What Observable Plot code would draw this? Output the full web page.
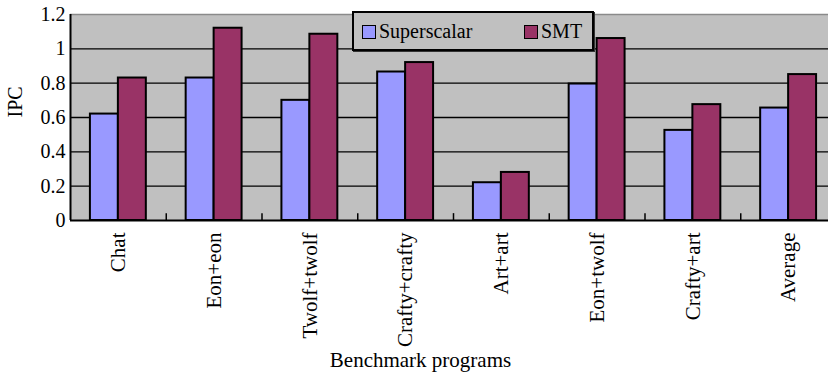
<!DOCTYPE html>
<html>
<head>
<meta charset="utf-8">
<script src="https://cdn.jsdelivr.net/npm/d3@7"></script>
<script src="https://cdn.jsdelivr.net/npm/@observablehq/plot@0.6"></script>
<style>
  html, body { margin: 0; padding: 0; background: #fff; }
  #wrap { position: relative; width: 828px; height: 372px; overflow: hidden; font-family: "Liberation Serif", "Times New Roman", serif; }
  #chart svg { max-width: none !important; }
  #legend { position: absolute; left: 352px; top: 11px; width: 238px; height: 36px; background: #c0c0c0; border: 2px solid #000; box-shadow: 1px 1px 0 #333; }
  .item { position: absolute; top: 6px; font-size: 20px; line-height: 24px; color: #000; white-space: nowrap; }
  .sw { display: inline-block; width: 12px; height: 12px; border: 1.5px solid #000; vertical-align: -1px; margin-right: 3px; }
</style>
</head>
<body>
<div id="wrap">
  <div id="chart"></div>
  <div id="legend"></div>
</div>
<script>
const categories = ["Chat", "Eon+eon", "Twolf+twolf", "Crafty+crafty", "Art+art", "Eon+twolf", "Crafty+art", "Average"];
const seriesNames = ["Superscalar", "SMT"];
const superscalar = [0.62, 0.83, 0.70, 0.865, 0.22, 0.795, 0.525, 0.655];
const smt = [0.83, 1.12, 1.085, 0.92, 0.28, 1.06, 0.675, 0.85];
const colors = ["#9999ff", "#993366"];
const yTicks = [0, 0.2, 0.4, 0.6, 0.8, 1, 1.2];

const barHalf = 0.292; // fraction of category step used by each bar
const rows = [];
categories.forEach((c, i) => {
  rows.push({i, category: c, series: "Superscalar", value: superscalar[i], x1: i - barHalf, x2: i});
  rows.push({i, category: c, series: "SMT", value: smt[i], x1: i, x2: i + barHalf});
});
const idx = categories.map((_, i) => i);
const boundaries = categories.map((_, i) => i + 0.5);

const chart = Plot.plot({
  width: 836,
  height: 372,
  marginLeft: 70,
  marginRight: 0,
  marginTop: 14,
  marginBottom: 152,
  style: {fontFamily: "Liberation Serif, Times New Roman, serif", fontSize: "20px", color: "#000", background: "transparent", maxWidth: "none"},
  x: {type: "linear", domain: [-0.5, categories.length - 0.5]},
  y: {domain: [0, 1.2]},
  color: {domain: seriesNames, range: colors},
  marks: [
    Plot.frame({fill: "#c0c0c0", stroke: null}),
    Plot.ruleY(yTicks.slice(1, -1), {stroke: "#000", strokeWidth: 1.4}),
    Plot.ruleY([1.2], {stroke: "#8a8a8a", strokeWidth: 1.5}),
    Plot.rectY(rows, {x1: "x1", x2: "x2", y1: 0, y2: "value", fill: "series", stroke: "#000", strokeWidth: 2}),
    Plot.ruleX(boundaries, {y1: 0, y2: 0.04, stroke: "#000", strokeWidth: 1.5}),
    Plot.ruleY([0], {stroke: "#000", strokeWidth: 2}),
    Plot.ruleX([-0.5], {stroke: "#000", strokeWidth: 2}),
    Plot.axisY({ticks: yTicks, tickSize: 0, tickPadding: 5, label: null, tickFormat: d => String(d)}),
    Plot.axisX({ticks: idx, tickSize: 0, tickPadding: 12, tickRotate: -90, tickFormat: i => categories[i], label: null, fontSize: 21}),
    Plot.text(["IPC"], {text: d => d, frameAnchor: "left", rotate: -90, dx: -55}),
    Plot.text(["Benchmark programs"], {text: d => d, frameAnchor: "bottom", dx: -33, dy: 146, fontSize: 21})
  ]
});
chart.style.maxWidth = "none";
document.getElementById("chart").appendChild(chart);

const legend = document.getElementById("legend");
const lefts = [8, 170];
seriesNames.forEach((s, k) => {
  const it = document.createElement("div");
  it.className = "item";
  it.style.left = lefts[k] + "px";
  it.innerHTML = `<span class="sw" style="background:${colors[k]}"></span>${s}`;
  legend.appendChild(it);
});
</script>
</body>
</html>
